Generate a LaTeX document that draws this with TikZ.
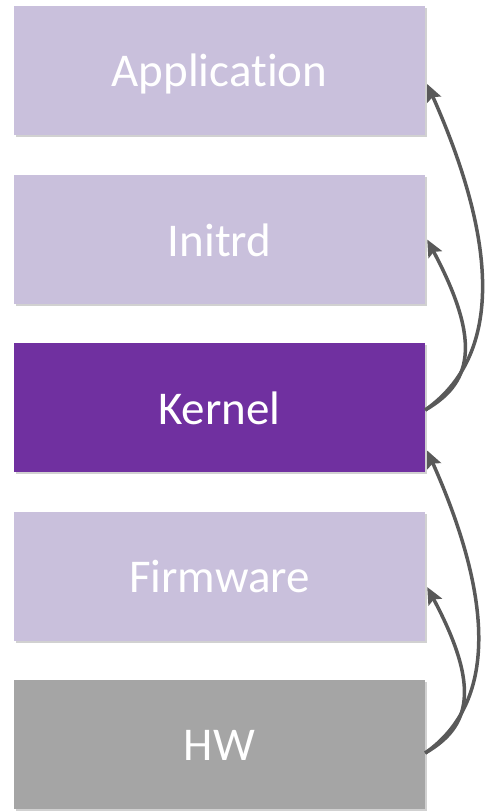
\documentclass[tikz,border=0pt]{standalone}
\usepackage{fontspec}
\setmainfont{Carlito}[Ligatures=NoCommon]
\usetikzlibrary{arrows.meta,shadows}
\definecolor{lightlayer}{HTML}{C9C0DC}
\definecolor{kernelpurple}{HTML}{7030A0}
\definecolor{hwgray}{HTML}{A5A5A5}
\definecolor{arrowgray}{HTML}{595959}
\tikzset{
  layer/.style={minimum width=411pt,minimum height=129pt,inner sep=0pt,
    text=white,font=\fontsize{47}{56}\selectfont,text height=33pt,text depth=0pt,
    drop shadow={shadow xshift=1.5pt,shadow yshift=-2pt,fill=black,opacity=0.18}},
  boot/.style={arrowgray,line width=3.5pt,-{Stealth[length=17pt,width=15pt,inset=3pt]}}
}

\begin{document}
\begin{tikzpicture}[x=1pt,y=1pt]
                \useasboundingbox (0,0) rectangle (485,-811);
                \node[layer,fill=lightlayer] (app) at (219.5,-70) {Application};
                \node[layer,fill=lightlayer] (initrd) at (219.5,-239.5) {Initrd};
                \node[layer,fill=kernelpurple] (kernel) at (219.5,-407.5) {Kernel};
                \node[layer,fill=lightlayer] (fw) at (219.5,-576) {Firmware};
                \node[layer,fill=hwgray] (hw) at (219.5,-744) {HW};
                % kernel loads initrd and application
                \draw[boot] ([yshift=-2.5pt]kernel.east) .. controls +(35:92) and +(-66:180) .. ([xshift=2pt,yshift=-14pt]app.east);
                \draw[boot] ([yshift=-2.5pt]kernel.east) .. controls +(30:52) and +(-62:120) .. ([xshift=2pt]initrd.east);
                % hardware boots firmware and kernel
                \draw[boot] ([yshift=-9pt]hw.east) .. controls +(35:87) and +(-66:165) .. ([xshift=2pt,yshift=-43pt]kernel.east);
                \draw[boot] ([yshift=-9pt]hw.east) .. controls +(30:52) and +(-62:115) .. ([xshift=2pt,yshift=-11pt]fw.east);
            \end{tikzpicture}
\end{document}
